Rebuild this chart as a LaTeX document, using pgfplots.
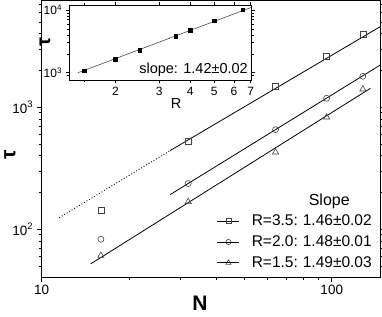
\documentclass[border=0pt]{standalone}
\usepackage{pgfplots}
\pgfplotsset{compat=1.18}
\usepackage{fontspec}
\setmainfont{Liberation Sans}
\begin{document}
\begin{tikzpicture}
\begin{axis}[
  name=main,
  scale only axis, width=339pt, height=276.5pt,
  xmode=log, ymode=log,
  xmin=10, xmax=147.5, ymin=40.6, ymax=7500,
  xtick={10,100}, xticklabels={10,100},
  ytick={100,1000}, yticklabels={10\textsuperscript{2},10\textsuperscript{3}},
  minor xtick={20,30,40,50,60,70,80,90},
  minor ytick={50,60,70,80,90,200,300,400,500,600,700,800,900,2000,3000,4000,5000,6000,7000},
  tick align=outside, major tick length=5pt, minor tick length=3pt,
  tick style={black, line width=0.7pt},
  axis line style={line width=0.9pt},
  ticklabel style={font=\fontsize{13.5}{16}\selectfont},
  xlabel={\textbf{N}}, ylabel={\textbf{τ}},
  label style={font=\fontsize{21}{23}\selectfont},
  xlabel style={at={(axis description cs:0.467,-0.094)}, anchor=center},
  ylabel style={at={(axis description cs:-0.094,0.441)}, anchor=center},
  clip=true,
  legend style={draw=none, fill=none, at={(rel axis cs:0.98,0.021)}, anchor=south east,
    font=\fontsize{15.5}{18}\selectfont, row sep=4.5pt, inner sep=0pt},
  legend cell align=left,
  legend image code/.code={\draw[#1] (0pt,0pt) -- (22pt,0pt); \draw[#1, mark repeat=1] plot coordinates {(11pt,0pt)};},
]
\coordinate (SW) at (rel axis cs:0,0);
\coordinate (NE) at (rel axis cs:1,1);
% lines
\addplot[black, line width=0.8pt, forget plot] coordinates {(27.7,441) (147.5,4600)};
\addplot[black, line width=0.9pt, dotted, forget plot] coordinates {(11.5,124.5) (27.7,441)};
\addplot[black, line width=0.8pt, forget plot] coordinates {(27.7,192) (147.5,2230)};
\addplot[black, line width=0.8pt, forget plot] coordinates {(14.75,52) (136,1431)};
% markers
\addplot[only marks, mark=square, mark size=3pt, black!75, line width=0.6pt, forget plot] coordinates {(16,144) (32,526) (64,1475) (96,2632) (128,3963)};
\addplot[only marks, mark=o, mark size=3pt, black!75, line width=0.6pt, forget plot] coordinates {(16,82.8) (32,237) (64,655) (96,1185) (128,1794)};
\addplot[only marks, mark=triangle, mark size=3.6pt, black!75, line width=0.6pt, forget plot] coordinates {(16,60.8) (32,168) (64,428) (96,828) (128,1405)};
\addlegendimage{empty legend}
\addlegendentry{\hspace*{67pt}{\fontsize{16}{18}\selectfont Slope}}
\addlegendimage{black, line width=0.7pt, mark=square, mark size=2.6pt, mark options={black!75, line width=0.6pt}}
\addlegendentry{\hspace*{10pt}R=3.5:\hspace{5pt}1.46±0.02}
\addlegendimage{black, line width=0.7pt, mark=o, mark size=2.6pt, mark options={black!75, line width=0.6pt}}
\addlegendentry{\hspace*{10pt}R=2.0:\hspace{5pt}1.48±0.01}
\addlegendimage{black, line width=0.7pt, mark=triangle, mark size=3pt, mark options={black!75, line width=0.6pt}}
\addlegendentry{\hspace*{10pt}R=1.5:\hspace{5pt}1.49±0.03}
\end{axis}
\begin{axis}[
  at={(27.3pt,197pt)}, anchor=south west,
  scale only axis, width=182.7pt, height=75pt,
  axis background/.style={fill=white},
  xmode=log, ymode=log,
  xmin=1.3, xmax=7.07, ymin=766, ymax=12000,
  xtick={2,3,4,5,6,7}, xticklabels={2,3,4,5,6,7},
  ytick={1000,10000}, yticklabels={10\textsuperscript{3},10\textsuperscript{4}},
  minor ytick={900,2000,3000,4000,5000,6000,7000,8000,9000},
  minor xtick={1.5},
  tick align=outside, major tick length=3.5pt, minor tick length=2pt,
  tick style={black, line width=0.6pt},
  axis line style={line width=0.8pt},
  ticklabel style={font=\fontsize{12}{14}\selectfont},
  xlabel={\fontsize{14.5}{17}\selectfont R}, ylabel={\fontsize{20}{22}\selectfont\textbf{τ}},
  xlabel style={at={(axis description cs:0.586,-0.307)}, anchor=center},
  ylabel style={at={(axis description cs:-0.131,0.507)}, anchor=center},
]
\addplot[black!70, line width=0.6pt] coordinates {(1.413,1000) (7.07,11040)};
\addplot[only marks, mark=square*, mark size=1.8pt, black] coordinates {(1.5,1076) (2,1636) (2.5,2302) (3.5,3810) (4,4800) (5,6745) (6.5,10120)};
\node[anchor=south east, inner sep=1pt] at (rel axis cs:0.985,0.03) {\fontsize{14.5}{16}\selectfont slope: 1.42±0.02};
\end{axis}
\pgfresetboundingbox
\path[use as bounding box] ([shift={(-41.7pt,-39pt)}]SW) rectangle ([shift={(1.3pt,0.5pt)}]NE);
\end{tikzpicture}
\end{document}
